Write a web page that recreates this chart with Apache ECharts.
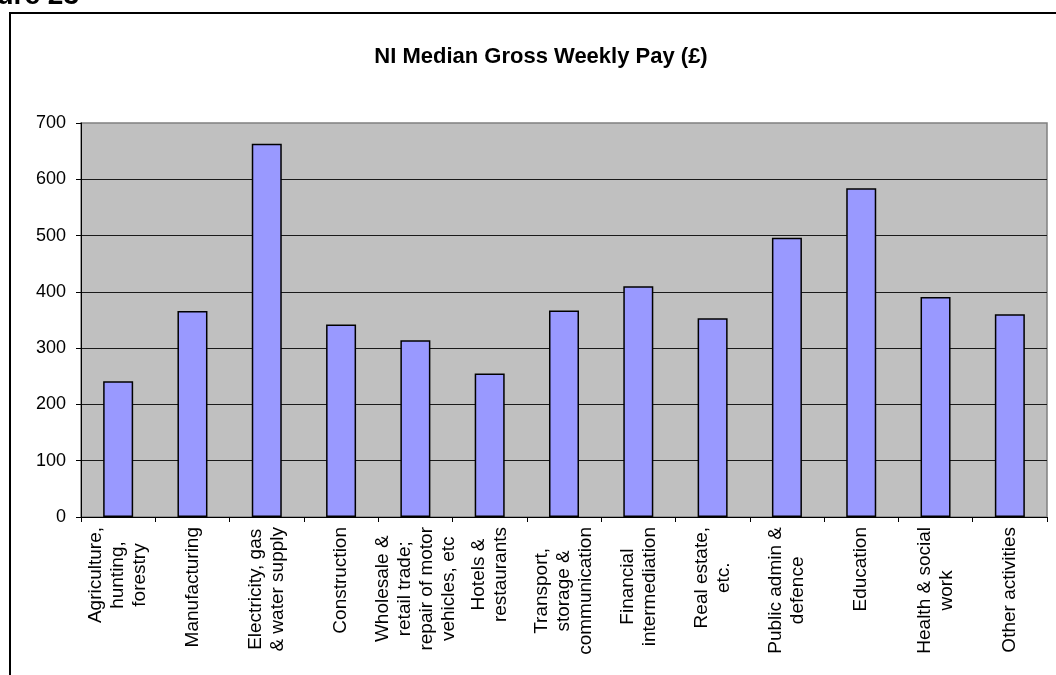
<!DOCTYPE html>
<html>
<head>
<meta charset="utf-8">
<script src="https://cdn.jsdelivr.net/npm/echarts@6/dist/echarts.min.js"></script>
<style>
  html, body { margin: 0; padding: 0; background: #fff; }
  #chart { width: 1056px; height: 675px; }
</style>
</head>
<body>
<div id="chart"></div>
<script>
// Industry sectors (line breaks as printed under the axis)
const categories = [
  'Agriculture,\nhunting,\nforestry',
  'Manufacturing',
  'Electricity, gas\n& water supply',
  'Construction',
  'Wholesale &\nretail trade;\nrepair of motor\nvehicles, etc',
  'Hotels &\nrestaurants',
  'Transport,\nstorage &\ncommunication',
  'Financial\nintermediation',
  'Real estate,\netc.',
  'Public admin &\ndefence',
  'Education',
  'Health & social\nwork',
  'Other activities'
];

// Median gross weekly pay, £
const medianPay = [241, 366, 663, 342, 314, 255, 367, 410, 353, 496, 584, 391, 360];

// Value axis range
const yMin = 0;
const yMax = 700;
const yStep = 100;

const FONT = "'Liberation Sans', Arial, sans-serif";

const chart = echarts.init(document.getElementById('chart'), null, { renderer: 'canvas' });

chart.setOption({
  animation: false,
  backgroundColor: '#ffffff',
  title: {
    text: 'NI Median Gross Weekly Pay (£)',
    left: 536,
    textAlign: 'center',
    top: 41,
    textStyle: { fontFamily: FONT, fontSize: 22, fontWeight: 'bold', color: '#000' }
  },
  graphic: [
    {
      type: 'rect',
      shape: { x: 10, y: 13, width: 1200, height: 800 },
      style: { fill: 'none', stroke: '#000', lineWidth: 2 },
      silent: true
    },
    {
      type: 'text',
      style: {
        text: 'Figure 23',
        x: 79,
        y: 10,
        align: 'right',
        verticalAlign: 'bottom',
        font: "bold 28px 'Liberation Sans', Arial, sans-serif",
        fill: '#000'
      },
      silent: true
    }
  ],
  grid: {
    left: 81,
    right: 9,
    top: 123,
    bottom: 158,
    show: true,
    backgroundColor: '#C0C0C0',
    borderColor: '#808080',
    borderWidth: 1.5
  },
  xAxis: {
    type: 'category',
    data: categories,
    boundaryGap: true,
    axisLine: { show: true, lineStyle: { color: '#000', width: 1 } },
    axisTick: { show: true, length: 5, lineStyle: { color: '#000' } },
    axisLabel: {
      interval: 0,
      rotate: 90,
      margin: 10,
      color: '#000',
      formatter: (v) => '{c|' + v + '}',
      rich: {
        c: { align: 'center', fontFamily: FONT, fontSize: 19, lineHeight: 22, color: '#000' }
      }
    },
    splitLine: { show: false }
  },
  yAxis: {
    type: 'value',
    min: yMin,
    max: yMax,
    interval: yStep,
    axisLine: { show: true, lineStyle: { color: '#000', width: 1 } },
    axisTick: { show: true, length: 5, lineStyle: { color: '#000' } },
    axisLabel: { margin: 15, color: '#000', fontFamily: FONT, fontSize: 18 },
    splitLine: { show: true, showMaxLine: false, lineStyle: { color: '#1a1a1a', width: 1 } }
  },
  series: [
    {
      type: 'bar',
      data: medianPay,
      barWidth: 30,
      itemStyle: { color: '#9999FF', borderColor: '#000', borderWidth: 1.5 }
    }
  ]
});
</script>
</body>
</html>
